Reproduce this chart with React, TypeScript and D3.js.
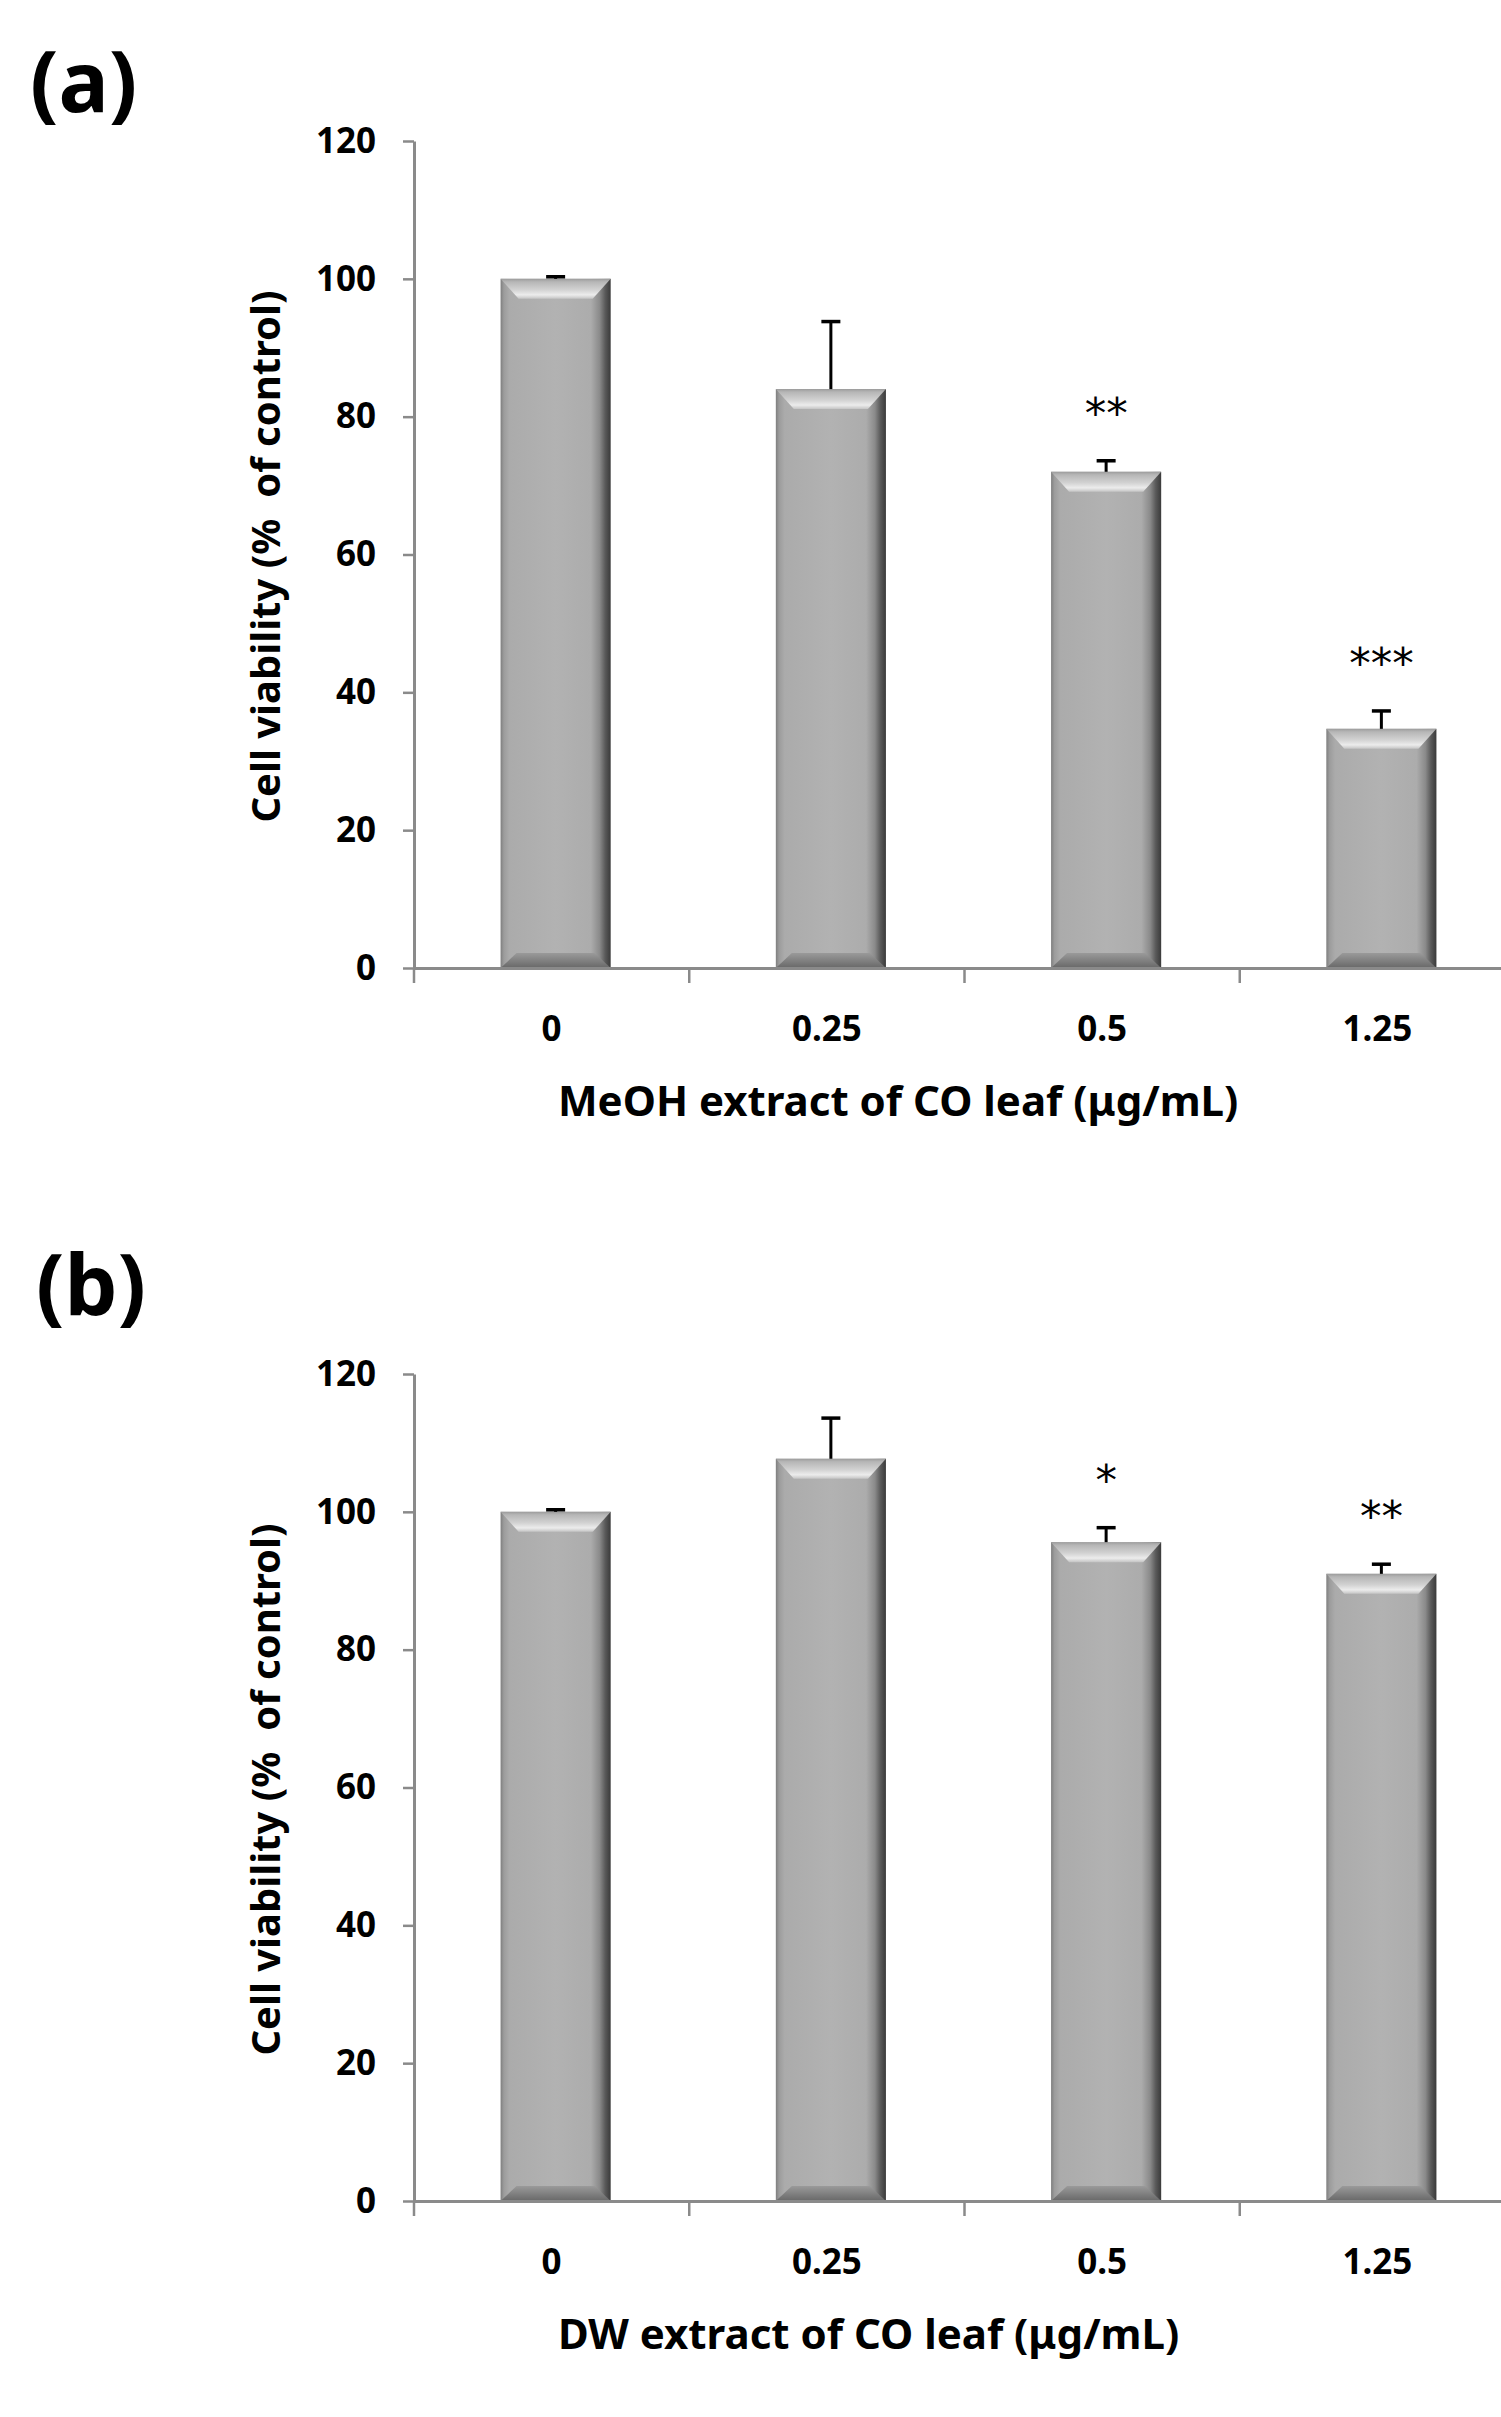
import * as d3 from "d3"
import { useEffect, useRef } from "react"

// doses on the x axis (µg/mL)
const doses = ["0", "0.25", "0.5", "1.25"]

// (a) MeOH extract
const meohViability = [100, 84, 72, 34.7]
const meohSd = [0.3, 9.8, 1.6, 2.6]
const meohStars = ["", "", "**", "***"]

// (b) DW extract
const dwViability = [100, 107.7, 95.6, 91]
const dwSd = [0.3, 5.9, 2.1, 1.4]
const dwStars = ["", "", "*", "**"]

const yTicks = [0, 20, 40, 60, 80, 100, 120]

const WIDTH = 1501
const HEIGHT = 2417
const FONT = "'Noto Sans', 'Open Sans', sans-serif"
const AXIS_COLOR = "#8a8a8a"

const PLOT_TOP = 141
const PLOT_BOTTOM = 968
const PLOT_LEFT = 414
const PLOT_RIGHT = 1515
const BAR_SHIFT = 4 // bars sit a little right of the category centre

interface PanelProps {
    label: string
    labelX: number
    labelY: number
    values: number[]
    errors: number[]
    stars: string[]
    xTitle: string
    top: number
}

const Panel = ({ label, labelX, labelY, values, errors, stars, xTitle, top }: PanelProps) => {
    const yAxisRef = useRef<SVGGElement>(null)
    const xAxisRef = useRef<SVGGElement>(null)

    const x = d3.scaleBand<string>()
        .domain(doses)
        .range([PLOT_LEFT, PLOT_RIGHT])
        .paddingInner(0.6)
        .paddingOuter(0.3)
    const y = d3.scaleLinear().domain([0, 120]).range([PLOT_BOTTOM, PLOT_TOP])

    useEffect(() => {
        const ya = d3.select(yAxisRef.current!)
        ya.call(d3.axisLeft(y).tickValues(yTicks).tickSize(11).tickSizeOuter(0).tickPadding(27))
        ya.attr("font-size", 35).attr("font-family", FONT).attr("font-weight", "bold")
        ya.select(".domain").attr("stroke", AXIS_COLOR).attr("stroke-width", 3)
        ya.selectAll(".tick line").attr("stroke", AXIS_COLOR).attr("stroke-width", 2.5)
        ya.selectAll(".tick text").attr("fill", "#000")

        const xa = d3.select(xAxisRef.current!)
        xa.call(d3.axisBottom(x).tickSize(0).tickSizeOuter(0).tickPadding(48))
        xa.attr("font-size", 35).attr("font-family", FONT).attr("font-weight", "bold")
        xa.select(".domain").attr("stroke", AXIS_COLOR).attr("stroke-width", 3)
        xa.selectAll(".tick text").attr("fill", "#000")
    })

    const bw = x.bandwidth()
    // category boundaries for the x tick marks
    const bounds = d3.range(doses.length + 1).map((i) => PLOT_LEFT + i * x.step())

    return (
        <g transform={`translate(0, ${top})`}>
            <text x={labelX} y={labelY} fontFamily={FONT} fontWeight="bold" fontSize={84}>{label}</text>

            {doses.map((d, i) => {
                const bx = x(d)! + BAR_SHIFT
                const yt = y(values[i])
                const yb = y(0)
                const ye = y(values[i] + errors[i])
                const cx = bx + bw / 2
                return (
                    <g key={d}>
                        <rect x={bx} y={yt} width={bw} height={yb - yt} fill="url(#barBody)" />
                        <polygon
                            points={`${bx},${yt} ${bx + bw},${yt} ${bx + bw - 18},${yt + 20} ${bx + 18},${yt + 20}`}
                            fill="url(#bevelTop)"
                        />
                        <polygon
                            points={`${bx + 16},${yb - 15} ${bx + bw - 16},${yb - 15} ${bx + bw},${yb} ${bx},${yb}`}
                            fill="url(#bevelBottom)"
                        />
                        <line x1={cx} x2={cx} y1={yt} y2={ye} stroke="#000" strokeWidth={3} />
                        <line x1={cx - 9.5} x2={cx + 9.5} y1={ye} y2={ye} stroke="#000" strokeWidth={3.5} />
                        {stars[i] && (
                            <text
                                x={cx}
                                y={ye - 55 + 22}
                                textAnchor="middle"
                                fontFamily="'DejaVu Sans', sans-serif"
                                fontSize={43}
                            >
                                {stars[i]}
                            </text>
                        )}
                    </g>
                )
            })}

            <g ref={yAxisRef} transform={`translate(${PLOT_LEFT}, 0)`} />
            <g ref={xAxisRef} transform={`translate(0, ${PLOT_BOTTOM})`} />
            {bounds.map((b, i) => (
                <line key={i} x1={b} x2={b} y1={PLOT_BOTTOM} y2={PLOT_BOTTOM + 15} stroke={AXIS_COLOR} strokeWidth={2.5} />
            ))}

            <text
                transform={`translate(280, ${(PLOT_TOP + PLOT_BOTTOM) / 2 + 2}) rotate(-90)`}
                textAnchor="middle"
                fontFamily={FONT}
                fontWeight="bold"
                fontSize={40}
                style={{ whiteSpace: "pre" }}
            >
                {"Cell viability (%  of control)"}
            </text>
            <text x={558} y={PLOT_BOTTOM + 148} fontFamily={FONT} fontWeight="bold" fontSize={42}>
                {xTitle}
            </text>
        </g>
    )
}

export default function App() {
    return (
        <svg
            width={WIDTH}
            height={HEIGHT}
            style={{ position: "absolute", left: 0, top: 0, background: "#fff" }}
        >
            <defs>
                <linearGradient id="barBody" x1="0" x2="1" y1="0" y2="0">
                    <stop offset="0" stopColor="#7e7e7e" />
                    <stop offset="0.03" stopColor="#9c9c9c" />
                    <stop offset="0.08" stopColor="#ababab" />
                    <stop offset="0.5" stopColor="#b2b2b2" />
                    <stop offset="0.82" stopColor="#acacac" />
                    <stop offset="0.9" stopColor="#8a8a8a" />
                    <stop offset="0.95" stopColor="#5a5a5a" />
                    <stop offset="1" stopColor="#3a3a3a" />
                </linearGradient>
                <linearGradient id="bevelTop" x1="0" x2="0" y1="0" y2="1">
                    <stop offset="0" stopColor="#9c9c9c" />
                    <stop offset="0.15" stopColor="#b6b6b6" />
                    <stop offset="0.55" stopColor="#d2d2d2" />
                    <stop offset="0.8" stopColor="#ececec" />
                    <stop offset="1" stopColor="#c4c4c4" />
                </linearGradient>
                <linearGradient id="bevelBottom" x1="0" x2="0" y1="0" y2="1">
                    <stop offset="0" stopColor="#9a9a9a" />
                    <stop offset="1" stopColor="#686868" />
                </linearGradient>
            </defs>
            <Panel
                label="(a)"
                labelX={30}
                labelY={112}
                values={meohViability}
                errors={meohSd}
                stars={meohStars}
                xTitle="MeOH extract of CO leaf (μg/mL)"
                top={0}
            />
            <Panel
                label="(b)"
                labelX={36}
                labelY={1315 - 1233}
                values={dwViability}
                errors={dwSd}
                stars={dwStars}
                xTitle="DW extract of CO leaf (μg/mL)"
                top={1233}
            />
        </svg>
    )
}
